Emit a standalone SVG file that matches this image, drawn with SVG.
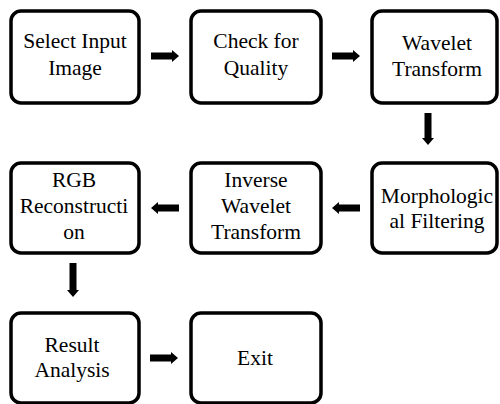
<svg xmlns="http://www.w3.org/2000/svg" width="500" height="404" viewBox="0 0 500 404">
<style>
.box{fill:#fff;stroke:#000;stroke-width:3.5}
text{font-size:21.5px;fill:#000;text-anchor:middle}
.arr{fill:#000}
</style>
<rect width="500" height="404" fill="#fff"/>
<g font-family="Liberation Serif, Times New Roman, serif">
<g id="n1"><rect class="box" x="11" y="11" width="128" height="92" rx="10"/><text font-family="Liberation Serif, serif" x="75" y="48">Select Input</text><text font-family="Liberation Serif, serif" x="75" y="75">Image</text></g>
<g id="n2"><rect class="box" x="191" y="11" width="130" height="92" rx="10"/><text font-family="Liberation Serif, serif" x="256" y="48">Check for</text><text font-family="Liberation Serif, serif" x="256" y="75">Quality</text></g>
<g id="n3"><rect class="box" x="372" y="11" width="125" height="92" rx="10"/><text font-family="Liberation Serif, serif" x="437" y="50">Wavelet</text><text font-family="Liberation Serif, serif" x="437" y="76">Transform</text></g>
<g id="n4"><rect class="box" x="372" y="163" width="125" height="90" rx="10"/><text font-family="Liberation Serif, serif" x="437" y="203">Morphologic</text><text font-family="Liberation Serif, serif" x="437" y="228">al Filtering</text></g>
<g id="n5"><rect class="box" x="191" y="163" width="130" height="90" rx="10"/><text font-family="Liberation Serif, serif" x="256" y="187">Inverse</text><text font-family="Liberation Serif, serif" x="256" y="213">Wavelet</text><text font-family="Liberation Serif, serif" x="256" y="239">Transform</text></g>
<g id="n6"><rect class="box" x="11" y="163" width="128" height="90" rx="10"/><text font-family="Liberation Serif, serif" x="74" y="187">RGB</text><text font-family="Liberation Serif, serif" x="74" y="213">Reconstructi</text><text font-family="Liberation Serif, serif" x="74" y="239">on</text></g>
<g id="n7"><rect class="box" x="11" y="313" width="128" height="90" rx="10"/><text font-family="Liberation Serif, serif" x="72" y="352">Result</text><text font-family="Liberation Serif, serif" x="72" y="377">Analysis</text></g>
<g id="n8"><rect class="box" x="191" y="313" width="130" height="90" rx="10"/><text font-family="Liberation Serif, serif" x="255" y="365">Exit</text></g>
</g>
<g id="connectors">
<polygon class="arr" points="151,52.5 172,52.5 172,50 179,56 172,62 172,59.5 151,59.5"/>
<polygon class="arr" points="332,52.5 353,52.5 353,50 360,56 353,62 353,59.5 332,59.5"/>
<polygon class="arr" points="424.5,113 431.5,113 431.5,138 434,138 428,145 422,138 424.5,138"/>
<polygon class="arr" points="360,204.5 339,204.5 339,202 332,208 339,214 339,211.5 360,211.5"/>
<polygon class="arr" points="179,204.5 158,204.5 158,202 151,208 158,214 158,211.5 179,211.5"/>
<polygon class="arr" points="69.5,263 76.5,263 76.5,290 79,290 73,297 67,290 69.5,290"/>
<polygon class="arr" points="150,354.5 171,354.5 171,352 178,358 171,364 171,361.5 150,361.5"/>
</g>
</svg>
